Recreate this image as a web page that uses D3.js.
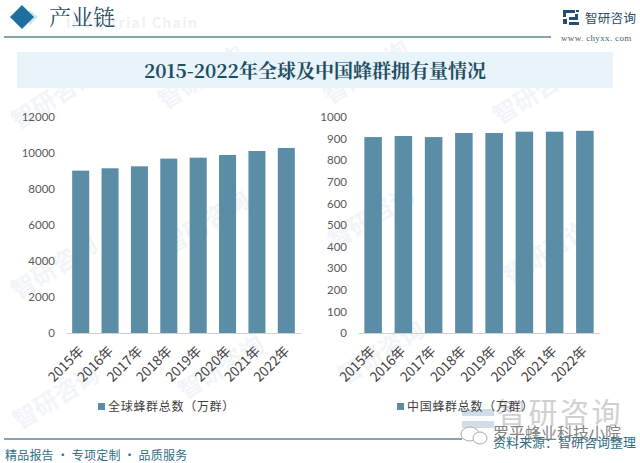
<!DOCTYPE html>
<html><head><meta charset="utf-8">
<script src="https://cdnjs.cloudflare.com/ajax/libs/d3/7.8.5/d3.min.js"></script>
<style>html,body{margin:0;padding:0;background:#fff}svg{display:block}</style>
</head><body><svg id="c" width="640" height="463"></svg>
<script>
const categories = ["2015年","2016年","2017年","2018年","2019年","2020年","2021年","2022年"];
const globalValues = [9020,9150,9260,9690,9740,9890,10110,10280];
const chinaValues = [907,912,907,926,926,932,932,936];
const globalTicks = [0,2000,4000,6000,8000,10000,12000];
const chinaTicks = [0,100,200,300,400,500,600,700,800,900,1000];
const title = "2015-2022年全球及中国蜂群拥有量情况";
const globalName = "全球蜂群总数（万群）";
const chinaName = "中国蜂群总数（万群）";

const svg = d3.select("#c");
const SERIF = "'Noto Serif CJK SC','Liberation Serif','Noto Sans CJK SC',serif";
const SANS = "'Noto Sans CJK SC',sans-serif";
const BAR = "#5b8ea6";

// watermark layer
const wm = svg.append("g");
const wmPositions = [[18,130],[165,110],[330,105],[500,125],[18,300],[170,255],[335,250],[510,285],[20,430],[185,400],[345,385]];
wmPositions.forEach(p=>{
  wm.append("text").attr("transform",`translate(${p[0]},${p[1]}) rotate(-32)`)
    .attr("font-family",SANS).attr("font-size",24).attr("font-weight",700)
    .attr("fill","#f1f5f8").text("智研咨询");
});

// overlay watermark, bottom right (sits under the legend text)
svg.append("path").attr("d","M462 409h32v7h-32zM462 421h32v7h-32z").attr("fill","#c4d6e3").attr("opacity",.8);
svg.append("text").attr("x",497).attr("y",424).attr("font-family",SANS).attr("font-size",29).attr("fill","#bdbdbd").attr("opacity",.7).attr("letter-spacing",2.5).text("智研咨询");

// header
svg.append("path").attr("d","M30 10 L38 17 L30 25 L26 17 Z").attr("fill","#d5e3ec");
svg.append("path").attr("d","M10 17 L22 5 L34 17 L22 29 Z").attr("fill","#1f6f9f");
svg.append("text").attr("x",66).attr("y",28).attr("font-family",SANS).attr("font-size",14).attr("font-weight",700).attr("fill","#eef2f5").attr("letter-spacing",1.4).text("Industrial Chain");
svg.append("text").attr("x",49).attr("y",25).attr("font-family",SERIF).attr("font-size",22).attr("fill","#1f4e63").text("产业链");
svg.append("line").attr("x1",4).attr("x2",551).attr("y1",37).attr("y2",37).attr("stroke","#5f8795").attr("stroke-width",1.5);
// logo
svg.append("path").attr("d","M563 10h12v3h-9v4h-3zM563 19h4v5h-4zM569 17h6v-3h3v6h-9zM569 22h10v3h-10zM576 10h3v2h-3z").attr("fill","#1f4e79");
svg.append("text").attr("x",585).attr("y",23).attr("font-family",SANS).attr("font-size",12.5).attr("fill","#2c4a63").attr("letter-spacing",.3).text("智研咨询");
svg.append("text").attr("x",561).attr("y",41).attr("font-family","'Liberation Serif',serif").attr("font-size",9).attr("fill","#44606f").attr("letter-spacing",.35).text("www. chyxx. com");

// title band
svg.append("rect").attr("x",17).attr("y",52).attr("width",596).attr("height",36).attr("fill","#e8f3fa");
svg.append("text").attr("x",315).attr("y",78).attr("text-anchor","middle").attr("font-family",SERIF).attr("font-size",19).attr("font-weight",700).attr("fill","#1f4e63").text(title);

function panel(values,ticks,maxV,x0,x1,axisX,name,legendX,labelDx){
  const x = d3.scaleBand().domain(categories).range([x0,x1]).paddingInner(0.42).paddingOuter(0.21);
  const y = d3.scaleLinear().domain([0,maxV]).range([333,117]);
  const g = svg.append("g");
  g.selectAll("rect").data(values).join("rect")
    .attr("x",(d,i)=>x(categories[i])).attr("width",x.bandwidth())
    .attr("y",d=>y(d)).attr("height",d=>y(0)-y(d)).attr("fill",BAR);
  const ya = g.append("g").attr("transform",`translate(${axisX},0)`).call(d3.axisLeft(y).tickValues(ticks).tickSize(0).tickPadding(0).tickFormat(d3.format("d")));
  ya.select(".domain").remove();
  ya.selectAll("text").attr("font-family","Lato,'Open Sans',sans-serif").attr("font-size",11.5).attr("fill","#595959");
  const xa = g.append("g").attr("transform","translate(0,333)").call(d3.axisBottom(x).tickSize(0).tickPadding(0));
  xa.select(".domain").attr("stroke","#d0d0d0");
  xa.selectAll("text").attr("font-family",SANS).attr("font-size",13.5).attr("fill","#404040")
    .attr("text-anchor","end").attr("dy",0)
    .attr("transform",`translate(${labelDx},19) rotate(-45)`);
  g.append("rect").attr("x",legendX).attr("y",403).attr("width",7).attr("height",7).attr("fill",BAR);
  g.append("text").attr("x",legendX+10).attr("y",411).attr("font-family",SANS).attr("font-size",12).attr("fill","#404040").attr("letter-spacing",.7).text(name);
}
panel(globalValues,globalTicks,12000,66,301,55,globalName,98,4);
panel(chinaValues,chinaTicks,1000,358,600,347,chinaName,397,3);

// footer
svg.append("line").attr("x1",4).attr("x2",462).attr("y1",439).attr("y2",439).attr("stroke","#5f8795").attr("stroke-width",1.5);
svg.append("text").attr("x",5).attr("y",460).attr("font-family",SANS).attr("font-size",12).attr("fill","#2f6f85").attr("letter-spacing",.2).text("精品报告 · 专项定制 · 品质服务");
svg.append("text").attr("x",493).attr("y",447).attr("font-family",SANS).attr("font-size",13).attr("fill","#2f6f85").text("资料来源：智研咨询整理");
svg.append("ellipse").attr("cx",470).attr("cy",434).attr("rx",9).attr("ry",7).attr("fill","#fff").attr("stroke","#aaa");
svg.append("ellipse").attr("cx",480).attr("cy",438).attr("rx",7).attr("ry",6).attr("fill","#fff").attr("stroke","#aaa");
svg.append("text").attr("x",493).attr("y",439).attr("font-family",SANS).attr("font-size",16).attr("fill","#666").attr("opacity",.8).text("罗平蜂业科技小院");
</script></body></html>
